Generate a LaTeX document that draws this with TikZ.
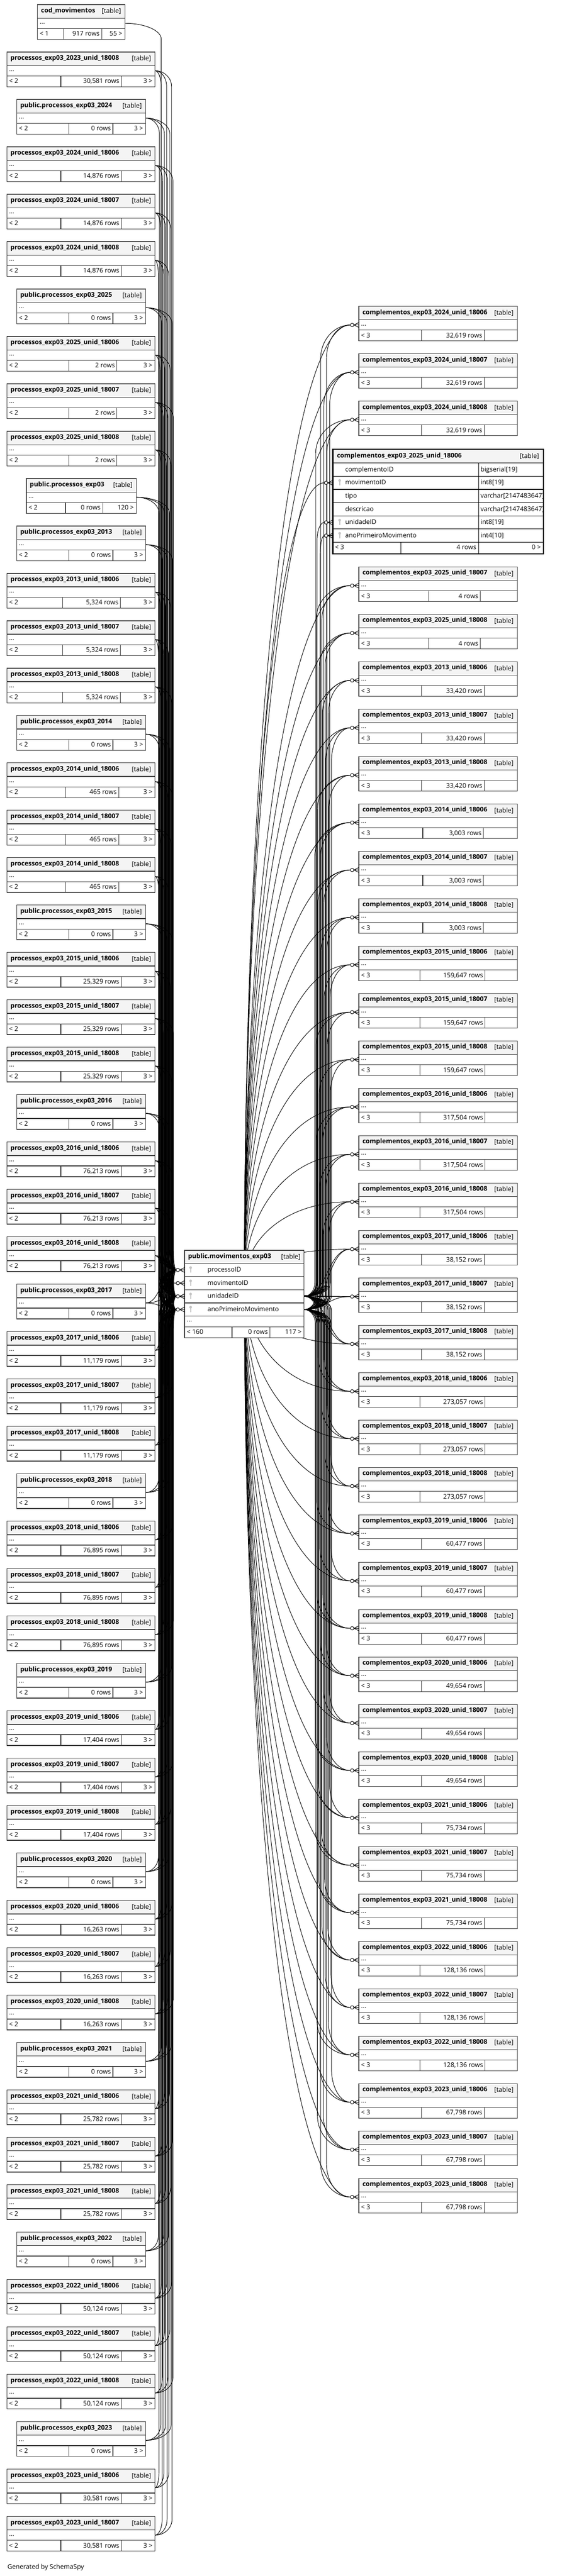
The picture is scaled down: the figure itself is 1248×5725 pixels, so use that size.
\documentclass[tikz,border=0pt]{standalone}
\usepackage{fontspec}
\setmainfont{Open Sans}
\usetikzlibrary{calc}
\pgfdeclarelayer{background}
\pgfsetlayers{background,main}
\definecolor{tgray}{HTML}{3A3A3A}
\definecolor{hfill}{HTML}{F4F4F4}
\definecolor{keyc}{HTML}{C4C4C4}
\tikzset{
 tline/.style={draw=tgray, line width=1.4pt},
 hdr/.style={tline, fill=hfill, inner sep=0pt, outer sep=0pt},
 cellb/.style={tline, fill=white, inner sep=0pt, outer sep=0pt},
 eline/.style={draw=black, line width=1.4pt},
 ehdr/.style={eline, fill=hfill, inner sep=0pt, outer sep=0pt},
 ecell/.style={eline, fill=white, inner sep=0pt, outer sep=0pt},
 txt/.style={inner sep=0pt, outer sep=0pt, font=\fontsize{14.3}{17}\selectfont},
 btxt/.style={inner sep=0pt, outer sep=0pt, font=\fontsize{14.3}{17}\selectfont\bfseries},
 edge/.style={draw=black, line width=1.1pt},
}
% generic collapsed table
\newcommand\gtab[9]{%
 \pgfmathsetmacro\gw{#3-(#2)}%
 \pgfmathsetmacro\gy{#4}%
 \node[hdr, anchor=north west, minimum width=\gw pt, minimum height=30pt] (#1) at (#2,\gy) {};
 \node[cellb, anchor=north west, minimum width=\gw pt, minimum height=23pt] (#1-d) at (#2,\gy+30) {};
 \node[cellb, anchor=north west, minimum width=\gw pt, minimum height=24pt] (#1-f) at (#2,\gy+53) {};
 \draw[tline] (#5,\gy+53) -- (#5,\gy+77) (#6,\gy+53) -- (#6,\gy+77);
 \node[btxt, anchor=base west] at (#2+8,\gy+17.8) {#7};
 \node[txt, anchor=base east] at (#3-8.5,\gy+19) {[table]};
 \node[txt, anchor=base west] at (#2+5,\gy+43) {...};
 \node[txt, anchor=base west] at (#2+5,\gy+69.5) {#8};
 \node[txt, anchor=base east] at (#6-4.5,\gy+69.5) {\RowsT};
 \node[txt, anchor=base east] at (#3-5.5,\gy+69.5) {#9};
}
\newcommand\LU[5]{\def\RowsT{#3}\gtab{L#1}{15.3}{344}{10.3+105.33*#1}{#4}{#5}{processos\_exp03\_#2}{< 2}{3 >}}
\newcommand\LP[2]{\def\RowsT{0 rows}\gtab{L#1}{37}{323.3}{10.3+105.33*#1}{153.3}{250.7}{public.processos\_exp03\_#2}{< 2}{3 >}}
\newcommand\RC[6]{\def\RowsT{#4}\gtab{R#1}{797}{1149}{#2}{#5}{#6}{complementos\_exp03\_#3}{< 3}{}}
% markers and connectors
\newcommand\crowat[1]{%
 \draw[edge] ($(#1)+(-11,0)$) -- ($(#1)+(0,-5.5)$) ($(#1)+(-11,0)$) -- (#1) ($(#1)+(-11,0)$) -- ($(#1)+(0,5.5)$);
 \draw[edge, fill=white] ($(#1)+(-15,0)$) circle[radius=3.8];
}
\newcommand\keyat[1]{\fill[keyc] (#1) circle[radius=3]; \draw[keyc, line width=2.2pt] (#1) -- ++(0,11);}
\newcommand\chedge[6]{%
 \draw[edge] let \p1=(#1), \p2=(#2) in (\p1) .. controls ({\x1+0.55*(#3pt-\x1)},\y1) and (#3pt,{\y1-(#4)*0.45*(#5)*1pt}) .. (#3pt,{\y1-(#4)*(#5)*1pt}) -- (#3pt,{\y2+(#4)*(#6)*1pt}) .. controls (#3pt,{\y2+(#4)*0.45*(#6)*1pt}) and ({\x2-0.55*(\x2-#3pt)},\y2) .. (\p2);}
\newcommand\dedge[2]{%
 \draw[edge] let \p1=(#1), \p2=(#2) in (\p1) .. controls ({0.5*\x1+0.5*\x2},\y1) and ({0.5*\x1+0.5*\x2},\y2) .. (\p2);}
\newcommand\fanedge[2]{%
 \draw[edge] let \p1=(#1), \p2=(#2) in (\p1) .. controls (\x1,{\y1+0.55*(\y2-\y1)}) and ({\x1+0.4*(\x2-\x1)},\y2) .. (\p2);}
\begin{document}
\begin{tikzpicture}[x=1pt,y=-1pt]
\useasboundingbox (0,0) rectangle (1248,5725);
\begin{pgfonlayer}{background}
\fill[white] (0,0) rectangle (1248,5725);
\end{pgfonlayer}
% ---------------- left column
\def\RowsT{917 rows}\gtab{L0}{83.3}{277.3}{10.3}{141}{225.7}{cod\_movimentos}{< 1}{55 >}
\LU{1}{2023\_unid\_18008}{30,581 rows}{135}{269.3}
\LP{2}{2024}
\LU{3}{2024\_unid\_18006}{14,876 rows}{135}{269.3}
\LU{4}{2024\_unid\_18007}{14,876 rows}{135}{269.3}
\LU{5}{2024\_unid\_18008}{14,876 rows}{135}{269.3}
\LP{6}{2025}
\LU{7}{2025\_unid\_18006}{2 rows}{153.3}{259.7}
\LU{8}{2025\_unid\_18007}{2 rows}{153.3}{259.7}
\LU{9}{2025\_unid\_18008}{2 rows}{153.3}{259.7}
\def\RowsT{0 rows}\gtab{L10}{58.3}{302.7}{10.3+105.33*10}{145.3}{228}{public.processos\_exp03}{< 2}{120 >}
\LP{11}{2013}
\LU{12}{2013\_unid\_18006}{5,324 rows}{138.7}{267.4}
\LU{13}{2013\_unid\_18007}{5,324 rows}{138.7}{267.4}
\LU{14}{2013\_unid\_18008}{5,324 rows}{138.7}{267.4}
\LP{15}{2014}
\LU{16}{2014\_unid\_18006}{465 rows}{146}{263.5}
\LU{17}{2014\_unid\_18007}{465 rows}{146}{263.5}
\LU{18}{2014\_unid\_18008}{465 rows}{146}{263.5}
\LP{19}{2015}
\LU{20}{2015\_unid\_18006}{25,329 rows}{135}{269.3}
\LU{21}{2015\_unid\_18007}{25,329 rows}{135}{269.3}
\LU{22}{2015\_unid\_18008}{25,329 rows}{135}{269.3}
\LP{23}{2016}
\LU{24}{2016\_unid\_18006}{76,213 rows}{135}{269.3}
\LU{25}{2016\_unid\_18007}{76,213 rows}{135}{269.3}
\LU{26}{2016\_unid\_18008}{76,213 rows}{135}{269.3}
\LP{27}{2017}
\LU{28}{2017\_unid\_18006}{11,179 rows}{135}{269.3}
\LU{29}{2017\_unid\_18007}{11,179 rows}{135}{269.3}
\LU{30}{2017\_unid\_18008}{11,179 rows}{135}{269.3}
\LP{31}{2018}
\LU{32}{2018\_unid\_18006}{76,895 rows}{135}{269.3}
\LU{33}{2018\_unid\_18007}{76,895 rows}{135}{269.3}
\LU{34}{2018\_unid\_18008}{76,895 rows}{135}{269.3}
\LP{35}{2019}
\LU{36}{2019\_unid\_18006}{17,404 rows}{135}{269.3}
\LU{37}{2019\_unid\_18007}{17,404 rows}{135}{269.3}
\LU{38}{2019\_unid\_18008}{17,404 rows}{135}{269.3}
\LP{39}{2020}
\LU{40}{2020\_unid\_18006}{16,263 rows}{135}{269.3}
\LU{41}{2020\_unid\_18007}{16,263 rows}{135}{269.3}
\LU{42}{2020\_unid\_18008}{16,263 rows}{135}{269.3}
\LP{43}{2021}
\LU{44}{2021\_unid\_18006}{25,782 rows}{135}{269.3}
\LU{45}{2021\_unid\_18007}{25,782 rows}{135}{269.3}
\LU{46}{2021\_unid\_18008}{25,782 rows}{135}{269.3}
\LP{47}{2022}
\LU{48}{2022\_unid\_18006}{50,124 rows}{135}{269.3}
\LU{49}{2022\_unid\_18007}{50,124 rows}{135}{269.3}
\LU{50}{2022\_unid\_18008}{50,124 rows}{135}{269.3}
\LP{51}{2023}
\LU{52}{2023\_unid\_18006}{30,581 rows}{135}{269.3}
\LU{53}{2023\_unid\_18007}{30,581 rows}{135}{269.3}
% ---------------- right column
\RC{0}{680.7}{2024\_unid\_18006}{32,619 rows}{935.7}{1075.3}
\RC{1}{786.03}{2024\_unid\_18007}{32,619 rows}{935.7}{1075.3}
\RC{2}{891.36}{2024\_unid\_18008}{32,619 rows}{935.7}{1075.3}
\RC{4}{1260}{2025\_unid\_18007}{4 rows}{952.3}{1066.7}
\RC{5}{1260+105.33*1}{2025\_unid\_18008}{4 rows}{952.3}{1066.7}
\RC{6}{1260+105.33*2}{2013\_unid\_18006}{33,420 rows}{935.7}{1075.3}
\RC{7}{1260+105.33*3}{2013\_unid\_18007}{33,420 rows}{935.7}{1075.3}
\RC{8}{1260+105.33*4}{2013\_unid\_18008}{33,420 rows}{935.7}{1075.3}
\RC{9}{1260+105.33*5}{2014\_unid\_18006}{3,003 rows}{939}{1073.6}
\RC{10}{1260+105.33*6}{2014\_unid\_18007}{3,003 rows}{939}{1073.6}
\RC{11}{1260+105.33*7}{2014\_unid\_18008}{3,003 rows}{939}{1073.6}
\RC{12}{1260+105.33*8}{2015\_unid\_18006}{159,647 rows}{932.4}{1077}
\RC{13}{1260+105.33*9}{2015\_unid\_18007}{159,647 rows}{932.4}{1077}
\RC{14}{1260+105.33*10}{2015\_unid\_18008}{159,647 rows}{932.4}{1077}
\RC{15}{1260+105.33*11}{2016\_unid\_18006}{317,504 rows}{932.4}{1077}
\RC{16}{1260+105.33*12}{2016\_unid\_18007}{317,504 rows}{932.4}{1077}
\RC{17}{1260+105.33*13}{2016\_unid\_18008}{317,504 rows}{932.4}{1077}
\RC{18}{1260+105.33*14}{2017\_unid\_18006}{38,152 rows}{935.7}{1075.3}
\RC{19}{1260+105.33*15}{2017\_unid\_18007}{38,152 rows}{935.7}{1075.3}
\RC{20}{1260+105.33*16}{2017\_unid\_18008}{38,152 rows}{935.7}{1075.3}
\RC{21}{1260+105.33*17}{2018\_unid\_18006}{273,057 rows}{932.4}{1077}
\RC{22}{1260+105.33*18}{2018\_unid\_18007}{273,057 rows}{932.4}{1077}
\RC{23}{1260+105.33*19}{2018\_unid\_18008}{273,057 rows}{932.4}{1077}
\RC{24}{1260+105.33*20}{2019\_unid\_18006}{60,477 rows}{935.7}{1075.3}
\RC{25}{1260+105.33*21}{2019\_unid\_18007}{60,477 rows}{935.7}{1075.3}
\RC{26}{1260+105.33*22}{2019\_unid\_18008}{60,477 rows}{935.7}{1075.3}
\RC{27}{1260+105.33*23}{2020\_unid\_18006}{49,654 rows}{935.7}{1075.3}
\RC{28}{1260+105.33*24}{2020\_unid\_18007}{49,654 rows}{935.7}{1075.3}
\RC{29}{1260+105.33*25}{2020\_unid\_18008}{49,654 rows}{935.7}{1075.3}
\RC{30}{1260+105.33*26}{2021\_unid\_18006}{75,734 rows}{935.7}{1075.3}
\RC{31}{1260+105.33*27}{2021\_unid\_18007}{75,734 rows}{935.7}{1075.3}
\RC{32}{1260+105.33*28}{2021\_unid\_18008}{75,734 rows}{935.7}{1075.3}
\RC{33}{1260+105.33*29}{2022\_unid\_18006}{128,136 rows}{932.4}{1077}
\RC{34}{1260+105.33*30}{2022\_unid\_18007}{128,136 rows}{932.4}{1077}
\RC{35}{1260+105.33*31}{2022\_unid\_18008}{128,136 rows}{932.4}{1077}
\RC{36}{1260+105.33*32}{2023\_unid\_18006}{67,798 rows}{935.7}{1075.3}
\RC{37}{1260+105.33*33}{2023\_unid\_18007}{67,798 rows}{935.7}{1075.3}
\RC{38}{1260+105.33*34}{2023\_unid\_18008}{67,798 rows}{935.7}{1075.3}
% ---------------- expanded table
\node[ehdr, anchor=north west, minimum width=468pt, minimum height=30.7pt] (E) at (739,998.3) {};
\foreach \nm/\yy in {c/1029, m/1058.35, t/1087.7, s/1117.05, u/1146.4, a/1175.75}
  {\node[ecell, anchor=north west, minimum width=468pt, minimum height=29.35pt] (E-\nm) at (739,\yy) {};}
\node[ecell, anchor=north west, minimum width=468pt, minimum height=25.7pt] (E-f) at (739,1205.1) {};
\draw[eline] (1062.7,1029) -- (1062.7,1230.8) (890,1205.1) -- (890,1230.8);
\draw[draw=black, line width=3pt] (739,998.3) rectangle (1207,1230.8);
\node[btxt, anchor=base west] at (748.3,1017) {complementos\_exp03\_2025\_unid\_18006};
\node[txt, anchor=base east] at (1197,1019) {[table]};
\foreach \yy/\nm/\ty in {1029/complementoID/{bigserial[19]}, 1058.35/movimentoID/{int8[19]}, 1087.7/tipo/{varchar[2147483647]}, 1117.05/descricao/{varchar[2147483647]}, 1146.4/unidadeID/{int8[19]}, 1175.75/anoPrimeiroMovimento/{int4[10]}}
  {\node[txt, anchor=base west] at (766.7,\yy+19) {\nm};
   \node[txt, anchor=base west] at (1067.3,\yy+19) {\ty};}
\foreach \yy in {1058.35,1146.4,1175.75} {\keyat{754.3,\yy+9.5}}
\node[txt, anchor=base west] at (744,1221) {< 3};
\node[txt, anchor=base east] at (1057.7,1221) {4 rows};
\node[txt, anchor=base east] at (1201,1221) {0 >};
% ---------------- central table
\node[hdr, anchor=north west, minimum width=265.3pt, minimum height=28.7pt] (M) at (410,2779) {};
\foreach \nm/\yy in {p/2807.7, m/2837, u/2866.3, a/2895.7}
  {\node[cellb, anchor=north west, minimum width=265.3pt, minimum height=29.3pt] (M-\nm) at (410,\yy) {};}
\node[cellb, anchor=north west, minimum width=265.3pt, minimum height=24.3pt] (M-d) at (410,2925) {};
\node[cellb, anchor=north west, minimum width=265.3pt, minimum height=23.4pt] (M-f) at (410,2949.3) {};
\draw[tline] (515.3,2949.3) -- (515.3,2972.7) (599.3,2949.3) -- (599.3,2972.7);
\node[btxt, anchor=base west] at (417.7,2796.5) {public.movimentos\_exp03};
\node[txt, anchor=base east] at (667.3,2798) {[table]};
\foreach \yy/\nm in {2807.7/processoID, 2837/movimentoID, 2866.3/unidadeID, 2895.7/anoPrimeiroMovimento}
  {\node[txt, anchor=base west] at (461,\yy+19) {\nm}; \keyat{423.3,\yy+9.5}}
\node[txt, anchor=base west] at (415,2938) {...};
\node[txt, anchor=base west] at (415,2965.5) {< 160};
\node[txt, anchor=base east] at (594.8,2965.5) {0 rows};
\node[txt, anchor=base east] at (669.8,2965.5) {117 >};
\node[txt, anchor=base west] (gen) at (16.7,5710) {Generated by SchemaSpy};
% ---------------- ports
\foreach \q in {p,m,u,a} {\coordinate (M\q-in) at ($(M-\q.west)+(-18.8,0)$);}
\coordinate (Mm-src) at (M-m.center);
\foreach \i in {0,1,2,4,5,...,38} {\coordinate (R\i-in) at ($(R\i-d.west)+(-18.8,0)$);}
\foreach \q in {m,u,a} {\coordinate (E\q-in) at ($(E-\q.west)+(-18.8,0)$);}
% ---------------- connectors
\begin{pgfonlayer}{background}
\chedge{L0-d.east}{Mm-in}{358}{1}{35}{45}
\foreach \i in {1,...,25} {
  \foreach \q [count=\j] in {p,u,a} {
    \pgfmathtruncatemacro\xv{352+mod(\i*7+\j*11,34)}
    \chedge{L\i-d.east}{M\q-in}{\xv}{1}{35}{45}
  }
}
\foreach \i in {28,...,53} {
  \foreach \q [count=\j] in {p,u,a} {
    \pgfmathtruncatemacro\xv{352+mod(\i*7+\j*11,34)}
    \chedge{L\i-d.east}{M\q-in}{\xv}{-1}{35}{45}
  }
}
\foreach \i in {26,27} {\foreach \q in {p,u,a} {\dedge{L\i-d.east}{M\q-in}}}
\foreach \i in {0,1,2,4,5,...,17} {
  \foreach \q [count=\j] in {u,a} {
    \pgfmathtruncatemacro\xv{699+mod(\i*7+\j*13,38)}
    \chedge{M-\q.east}{R\i-in}{\xv}{-1}{30}{75}
  }
  \fanedge{Mm-src}{R\i-in}
}
\foreach \i in {21,...,38} {
  \foreach \q [count=\j] in {u,a} {
    \pgfmathtruncatemacro\xv{699+mod(\i*7+\j*13,38)}
    \chedge{M-\q.east}{R\i-in}{\xv}{1}{30}{75}
  }
  \fanedge{Mm-src}{R\i-in}
}
\foreach \i in {18,19,20} {\dedge{M-u.east}{R\i-in} \dedge{M-a.east}{R\i-in} \fanedge{Mm-src}{R\i-in}}
\chedge{M-u.east}{Eu-in}{704}{-1}{30}{40}
\chedge{M-a.east}{Ea-in}{711}{-1}{30}{40}
\fanedge{Mm-src}{Em-in}
\end{pgfonlayer}
% ---------------- markers
\foreach \q in {p,m,u,a} {\crowat{M-\q.west}}
\foreach \i in {0,1,2,4,5,...,38} {\crowat{R\i-d.west}}
\foreach \q in {m,u,a} {\crowat{E-\q.west}}
\end{tikzpicture}
\end{document}
